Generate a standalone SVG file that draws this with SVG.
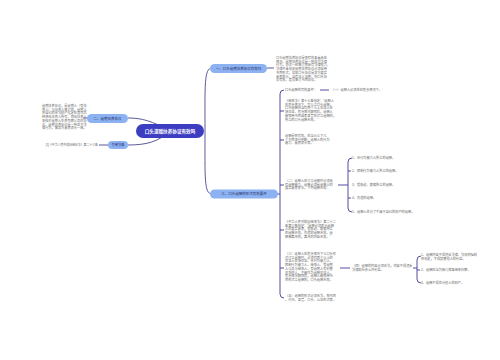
<svg xmlns="http://www.w3.org/2000/svg" width="500" height="360" viewBox="0 0 500 360">
<style>
.t{font-family:"Liberation Sans","Noto Sans CJK SC",sans-serif;font-size:3.2px;fill:#6a6a6a}
.bt{font-family:"Liberation Sans","Noto Sans CJK SC",sans-serif;font-size:3.5px;fill:#1e2a66}
.ct{font-family:"Liberation Sans","Noto Sans CJK SC",sans-serif;font-size:4.6px;fill:#fff;font-weight:bold}
.pill{fill:#8db2f2}
.c{fill:none;stroke:#4a4690;stroke-width:0.9}
.b{fill:none;stroke:#3f3a96;stroke-width:0.9}
</style>
<rect width="500" height="360" fill="#fff"/>
<g id="connectors">
<path class="c" d="M205 131 C205 85 204 68 212 68"/>
<path class="c" d="M205 131 C205 178 204 194 212 194"/>
<path class="c" d="M170 131 C152 121 142 118 128 118"/>
<path class="c" d="M170 131 C158 142 146 145 128 145"/>
<path class="c" d="M267 68 L274 68"/>
<path class="c" d="M87 118 L83 118"/>
<path class="c" d="M108 145 L99 145"/>
<path class="b" d="M277 194 L280 194"/>
<path class="b" d="M284 90 Q280 90 280 94 L280 294 Q280 298 284 298"/>
<path class="b" d="M280 111 L284 111 M280 140 L284 140 M280 185 L284 185 M280 230 L284 230 M280 268 L284 268"/>
<path class="b" d="M320 90 L329 90"/>
<path class="b" d="M338 185 L348 185"/>
<path class="b" d="M352 158 Q348 158 348 162 L348 208 Q348 212 352 212"/>
<path class="b" d="M348 171 L351 171 M348 198 L351 198"/>
<path class="b" d="M340 268 L350 268"/>
<path class="b" d="M413 268 L417 268"/>
<path class="b" d="M421 256 Q417 256 417 260 L417 279 Q417 283 421 283"/>
<path class="b" d="M417 270 L420 270"/>
</g>
<g id="center">
<rect x="136" y="124" width="68" height="14" rx="7" fill="#3d3dc2"/>
<text class="ct" x="170" y="132.6" text-anchor="middle">口头遗赠扶养协议有效吗</text>
</g>
<g id="branch1">
<rect class="pill" x="210" y="64" width="57" height="9" rx="4.5"/>
<text class="bt" x="238.5" y="69.8" text-anchor="middle">一、口头遗赠扶养协议有效吗</text>
</g>
<g id="branch1-text">
<text class="t" x="276" y="59"><tspan x="276">口头遗赠扶养协议是否有效要看具体</tspan><tspan x="276" dy="3.7">情况。遗赠扶养协议是一种双方法律</tspan><tspan x="276" dy="3.7">行为，协议一经签订即具有法律效力。</tspan><tspan x="276" dy="3.7">法律并未规定遗赠扶养协议必须采用</tspan><tspan x="276" dy="3.7">书面形式，如果口头协议是双方真实</tspan><tspan x="276" dy="3.7">意思表示，且有证人证明，则口头协</tspan><tspan x="276" dy="3.7">议有效。建议签订书面协议。</tspan></text>
</g>
<g id="branch2">
<rect class="pill" x="87" y="114" width="41" height="9" rx="4.5"/>
<text class="bt" x="107.5" y="119.8" text-anchor="middle">二、遗赠扶养协议</text>
</g>
<g id="branch2-text">
<text class="t" x="42" y="107"><tspan x="42">遗赠扶养协议，是遗赠人（受扶</tspan><tspan x="42" dy="3.7">养人）与扶养人签订的，遗赠人</tspan><tspan x="42" dy="3.7">将自己的合法财产指定在其死后</tspan><tspan x="42" dy="3.7">转移给扶养人所有，而由扶养人</tspan><tspan x="42" dy="3.7">承担对遗赠人生养死葬义务的协</tspan><tspan x="42" dy="3.7">议。遗赠扶养协议是一种双方法</tspan><tspan x="42" dy="3.7">律行为，需双方意思表示一致。</tspan></text>
</g>
<g id="ref">
<rect class="pill" x="108" y="141" width="20" height="8" rx="4"/>
<text class="bt" x="118" y="146.2" text-anchor="middle" style="font-size:3.3px">引用法条</text>
<text class="t" x="98" y="146.1" text-anchor="end" style="font-size:2.9px">[1]《中华人民共和国继承法》第二十三条</text>
</g>
<g id="branch3">
<rect class="pill" x="210" y="189.5" width="68" height="9" rx="4.5"/>
<text class="bt" x="244" y="195.3" text-anchor="middle">三、口头遗嘱的形式有效要件</text>
</g>
<g id="b3-a">
<text class="t" x="285" y="91.2">口头遗嘱的有效要件：</text>
<text class="t" x="331" y="91.2">（一）遗嘱人必须处在危急情况下。</text>
</g>
<g id="b3-b">
<text class="t" x="285" y="102"><tspan x="285">《继承法》第十七条规定：“遗嘱人</tspan><tspan x="285" dy="3.7">在危急情况下，可以立口头遗嘱。</tspan><tspan x="285" dy="3.7">口头遗嘱应当有两个以上见证人在</tspan><tspan x="285" dy="3.7">场见证。危急情况解除后，遗嘱人</tspan><tspan x="285" dy="3.7">能够用书面或者录音形式立遗嘱的，</tspan><tspan x="285" dy="3.7">所立的口头遗嘱无效。”</tspan></text>
</g>
<g id="b3-c">
<text class="t" x="285" y="137"><tspan x="285">遗嘱是否有效，应当从以下几</tspan><tspan x="285" dy="3.7">个方面进行判断：遗嘱人的行为</tspan><tspan x="285" dy="3.7">能力、意思表示等。</tspan></text>
</g>
<g id="b3-d">
<text class="t" x="285" y="182"><tspan x="285">（二）遗嘱人在订立遗嘱时必须具</tspan><tspan x="285" dy="3.7">有遗嘱能力，遗嘱必须是遗嘱人的</tspan><tspan x="285" dy="3.7">真实意思表示，下列遗嘱无效：</tspan></text>
</g>
<g id="b3-d1"><text class="t" x="352" y="159.2">1、无行为能力人所立的遗嘱。</text></g>
<g id="b3-d2"><text class="t" x="352" y="172.2">2、限制行为能力人所立的遗嘱。</text></g>
<g id="b3-d3"><text class="t" x="352" y="186.2">3、受胁迫、欺骗所立的遗嘱。</text></g>
<g id="b3-d4"><text class="t" x="352" y="199.2">4、伪造的遗嘱。</text></g>
<g id="b3-d5"><text class="t" x="352" y="213.2">5、遗嘱人处分了不属于自己的财产的遗嘱。</text></g>
<g id="b3-e">
<text class="t" x="285" y="223"><tspan x="285">《中华人民共和国继承法》第二十二</tspan><tspan x="285" dy="3.7">条第三款规定：“遗嘱必须表示遗嘱</tspan><tspan x="285" dy="3.7">人的真实意思，受胁迫、欺骗所立</tspan><tspan x="285" dy="3.7">的遗嘱无效。伪造的遗嘱无效。遗</tspan><tspan x="285" dy="3.7">嘱被篡改的，篡改的内容无效。”</tspan></text>
</g>
<g id="b3-f">
<text class="t" x="285" y="255"><tspan x="285">（三）遗嘱人在危急情况下以口头形</tspan><tspan x="285" dy="3.7">式订立遗嘱时，必须有两个以上的</tspan><tspan x="285" dy="3.7">见证人在场见证。无行为能力人、</tspan><tspan x="285" dy="3.7">限制行为能力人、继承人、受遗赠</tspan><tspan x="285" dy="3.7">人以及与继承人、受遗赠人有利害</tspan><tspan x="285" dy="3.7">关系的人，不能作为遗嘱见证人。</tspan><tspan x="285" dy="3.7">危急情况解除后，遗嘱人能够用书</tspan><tspan x="285" dy="3.7">面形式立遗嘱的，口头遗嘱无效。</tspan></text>
</g>
<g id="b3-g">
<text class="t" x="352" y="267"><tspan x="352">（四）遗嘱的内容必须合法，内容不得违反</tspan><tspan x="352" dy="3.7">法律和社会公共利益。</tspan></text>
</g>
<g id="b3-g1"><text class="t" x="421" y="256"><tspan x="421">1、遗嘱内容不得违反法律、法规的强制</tspan><tspan x="421" dy="3.7">性规定，不得损害他人的利益。</tspan></text></g>
<g id="b3-g2"><text class="t" x="421" y="271.2">2、遗嘱应当为胎儿保留继承份额。</text></g>
<g id="b3-g3"><text class="t" x="421" y="284.2">3、遗嘱不得处分他人的财产。</text></g>
<g id="b3-h">
<text class="t" x="285" y="297"><tspan x="285">（五）遗嘱的形式必须合法，即书面</tspan><tspan x="285" dy="3.7">、代书、录音、口头、公证形式等。</tspan></text>
</g>
</svg>
